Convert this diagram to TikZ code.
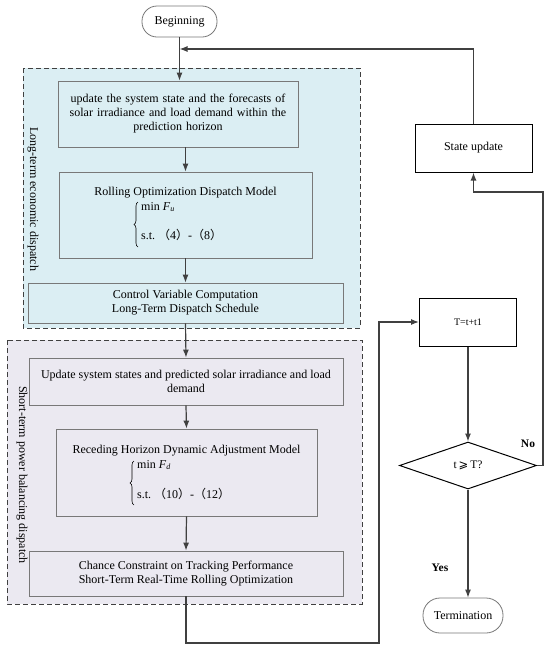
\documentclass[tikz,border=0pt]{standalone}
\usepackage{fontspec}
\setmainfont{Liberation Serif}
\newfontfamily\cjk{Noto Sans CJK SC}
\newfontfamily\symf{DejaVu Sans}
\usetikzlibrary{shapes.geometric,arrows.meta,decorations.pathreplacing}
\definecolor{topfill}{RGB}{219,238,243}
\definecolor{botfill}{RGB}{235,233,241}
\definecolor{linegray}{RGB}{64,64,64}
\definecolor{boxgray}{RGB}{120,120,120}
\newcommand{\fp}[1]{{\cjk （}#1{\cjk ）}}
\begin{document}
\begin{tikzpicture}[x=1pt,y=-1pt,
  conn/.style={draw=linegray,line width=1.2pt},
  arr/.style={conn,-{Latex[length=8pt,width=6pt]}},
  group/.style={draw=linegray,dashed,dash pattern=on 5pt off 3pt,line width=0.9pt},
  inbox/.style={draw=boxgray,line width=0.8pt,inner sep=0pt,align=center,font=\fontsize{12}{14}\selectfont},
  outbox/.style={draw=black,fill=white,line width=1pt,inner sep=0pt,align=center,font=\fontsize{12}{14}\selectfont},
  term/.style={draw=boxgray,fill=white,line width=0.8pt,rounded corners=15pt,inner sep=0pt,font=\fontsize{12}{14}\selectfont},
  lbl/.style={inner sep=0pt,font=\fontsize{12}{14}\selectfont},
  bold/.style={inner sep=0pt,font=\fontsize{11.5}{13}\selectfont\bfseries}]
\useasboundingbox (0,0) rectangle (550,649);
\fill[white] (0,0) rectangle (550,649);
% groups
\draw[group,fill=topfill] (23,68) rectangle (360,328);
\draw[group,fill=botfill] (7,340) rectangle (362,604);
\node[lbl,rotate=-90] (g1lbl) at (33,199) {Long-term economic dispatch};
\node[lbl,rotate=-90] (g2lbl) at (22,475) {Short-term power balancing dispatch};
% nodes
\node[term,minimum width=75pt,minimum height=31pt] (begin) at (179.5,21.5) {Beginning};
\node[inbox,fill=topfill,minimum width=240pt,minimum height=66pt,text width=236pt] (b1) at (178,114)
  {update the system state and the forecasts of\\ solar irradiance and load demand within the\\ prediction horizon};
\node[inbox,fill=topfill,minimum width=253pt,minimum height=86pt] (b2) at (185.5,215) {};
\node[lbl] (b2t) at (185.5,193) {Rolling Optimization Dispatch Model};
\node[lbl,anchor=west] (b2a) at (141,207) {min \textit{F}\textsubscript{\textit{u}}};
\node[lbl,anchor=west] (b2b) at (141,235) {s.t.\ \fp{4}-\fp{8}};
\draw[line width=0.6pt,decorate,decoration={brace,amplitude=4pt}] (138,247) -- (138,202);
\node[inbox,fill=topfill,minimum width=315pt,minimum height=40pt] (b3) at (185.5,303)
  {Control Variable Computation\\ Long-Term Dispatch Schedule};
\node[inbox,fill=botfill,minimum width=314pt,minimum height=47pt] (b4) at (186,381.5)
  {Update system states and predicted solar irradiance and load\\ demand};
\node[inbox,fill=botfill,minimum width=261pt,minimum height=87pt] (b5) at (186.5,472.5) {};
\node[lbl] (b5t) at (186.5,451) {Receding Horizon Dynamic Adjustment Model};
\node[lbl,anchor=west] (b5a) at (137,465) {min \textit{F}\textsubscript{\textit{d}}};
\node[lbl,anchor=west] (b5b) at (137,494) {s.t.\ \fp{10}-\fp{12}};
\draw[line width=0.6pt,decorate,decoration={brace,amplitude=4pt}] (134,505) -- (134,461);
\node[inbox,fill=botfill,minimum width=314pt,minimum height=45pt] (b6) at (186,573.5)
  {Chance Constraint on Tracking Performance\\ Short-Term Real-Time Rolling Optimization};
\node[outbox,minimum width=97pt,minimum height=48pt,font=\fontsize{10}{12}\selectfont] (tb) at (468,322) {T=t+t1};
\node[draw=black,fill=white,line width=1pt,diamond,inner sep=0pt,minimum width=137pt,minimum height=47pt,font=\fontsize{11.5}{13}\selectfont] (dia) at (468,465.5) {t\,{\symf ⩾}\,T?};
\node[outbox,minimum width=117pt,minimum height=48pt] (su) at (473.5,148) {State update};
\node[term,minimum width=80pt,minimum height=35pt,rounded corners=17pt] (tm) at (463,615.5) {Termination};
\node[bold] (no) at (528,444) {No};
\node[bold] (yes) at (440,568) {Yes};
% coordinates
\coordinate (fb) at (179.5,49);
\coordinate (c2) at (379,643);
\coordinate (r1) at (543,192);
% connectors
\draw[arr] (begin.south) -- (begin.south |- b1.north);
\draw[arr] (su.north) |- (fb);
\draw[arr] (b2.north |- b1.south) -- (b2.north);
\draw[arr] (b2.south) -- (b3.north);
\draw[arr] (b3.south) -- (b4.north);
\draw[arr] (b4.south) -- (b5.north);
\draw[arr] (b5.south) -- (b6.north);
\draw[arr] (b6.south) |- (c2) |- (tb.west);
\draw[arr] (tb.south) -- (dia.north);
\draw[arr] (dia.south) -- (dia.south |- tm.north);
\draw[arr] (dia.east) -| (r1) -| (su.south);
\end{tikzpicture}
\end{document}
